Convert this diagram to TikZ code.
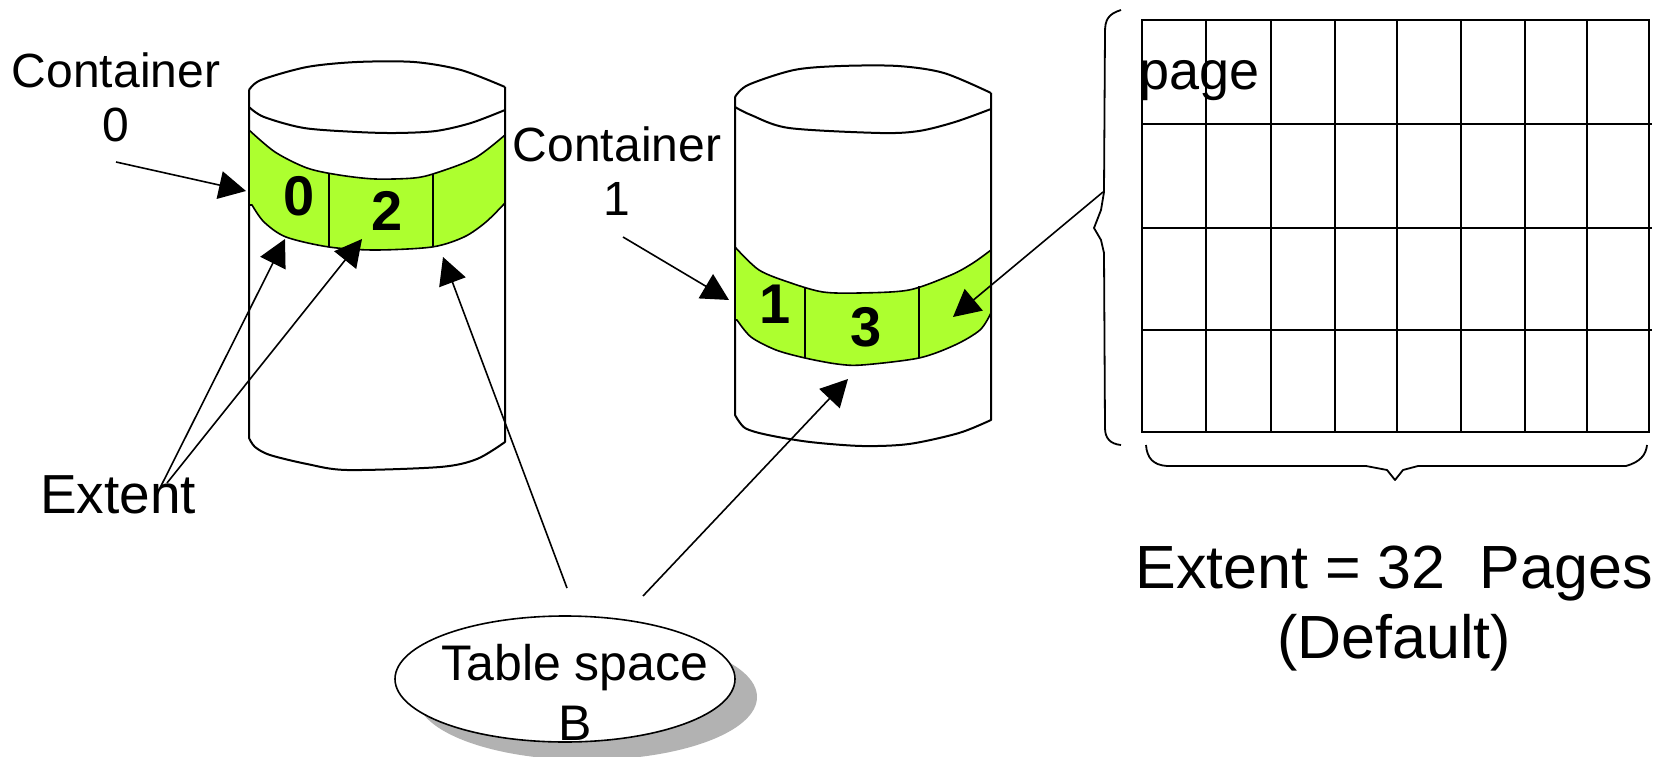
\documentclass[tikz,border=0pt]{standalone}
\usepackage{fontspec}
\setmainfont{Liberation Sans}
\usetikzlibrary{arrows.meta,shapes.geometric,shadows}
\definecolor{bandgreen}{RGB}{173,255,47}
\definecolor{shadowgray}{RGB}{178,178,178}

\begin{document}
\begin{tikzpicture}[x=1pt,y=-1pt,
  outline/.style={line width=2pt, line join=round},
  band/.style={fill=bandgreen, draw=black, line width=1.6pt, line join=round},
  divider/.style={line width=1.6pt},
  pointer/.style={line width=1.6pt, -{Triangle[length=27pt,width=28pt]}},
  lbl/.style={font=\fontsize{48}{54}\selectfont, align=center, inner sep=0pt},
  biglbl/.style={font=\fontsize{61}{70}\selectfont, align=center, inner sep=0pt},
  digit/.style={font=\fontsize{56}{60}\selectfont\bfseries, inner sep=0pt, anchor=base},
  gridline/.style={line width=1.8pt},
  bracepath/.style={line width=1.8pt, line join=round},
]
\useasboundingbox (0,0) rectangle (1663,757);

% ---------- container 0 ----------
\draw[outline] plot[smooth,tension=0.5] coordinates {(249,90) (261,80) (307,67) (357,62) (414,62) (461,70) (505,87)};
\draw[outline] plot[smooth,tension=0.5] coordinates {(249,107) (264,117) (304,128) (357,132) (396,133) (436,131) (471,123) (505,110)};
\draw[outline] (249,90) -- (249,438) -- plot[smooth,tension=0.5] coordinates {(249,438) (255,447) (270,455) (307,464) (347,470) (440,467) (477,459) (505,442)} -- (505,87);
\filldraw[band] plot[smooth,tension=0.5] coordinates {(249,130) (275,152) (307,168) (339,175) (375,179) (414,178) (436,173) (475,158) (505,135)}
  -- (505,203) -- plot[smooth,tension=0.5] coordinates {(505,203) (486,222) (464,237) (432,247) (375,250) (329,247) (286,237) (264,222) (252,205)} -- (249,205) -- cycle;
\draw[divider] (329,173) -- (329,247);
\draw[divider] (433,174) -- (433,247);
\draw[outline] (249,100) -- (249,250);
\draw[outline] (505,100) -- (505,250);
\node[digit] (e0) at (299,215) {0};
\node[digit] (e2) at (387,230) {2};

% ---------- container 1 ----------
\draw[outline] plot[smooth,tension=0.5] coordinates {(735,97) (748,85) (794,70) (841,66) (898,66) (944,73) (991,93)};
\draw[outline] plot[smooth,tension=0.5] coordinates {(735,107) (751,115) (789,128) (880,133) (919,131) (955,122) (991,109)};
\draw[outline] (735,97) -- (735,415) -- plot[smooth,tension=0.5] coordinates {(735,415) (745,428) (768,435) (810,442) (862,446) (909,444) (959,433) (991,420)} -- (991,93);
\filldraw[band] plot[smooth,tension=0.5] coordinates {(735,247) (759,270) (791,283) (823,292) (859,293) (909,290) (951,275) (973,263) (991,250)}
  -- (991,313) -- plot[smooth,tension=0.5] coordinates {(991,313) (980,330) (955,345) (919,358) (862,365) (837,364) (805,358) (776,350) (751,337) (737,320)} -- (735,320) -- cycle;
\draw[divider] (805,287) -- (805,358);
\draw[divider] (919,286) -- (919,358);
\draw[outline] (735,230) -- (735,340);
\draw[outline] (991,230) -- (991,340);
\node[digit] (e1) at (775,323) {1};
\node[digit] (e3) at (866,346) {3};

% ---------- extent of pages ----------
\foreach \x in {1142,1206,1271,1335,1397,1461,1525,1587,1649}
  \draw[gridline] (\x,20) -- (\x,432);
\draw[gridline] (1141,20) -- (1650,20);
\draw[gridline] (1142,124) -- (1652,124);
\draw[gridline] (1142,228) -- (1652,228);
\draw[gridline] (1142,330) -- (1652,330);
\draw[gridline] (1141,432) -- (1650,432);
\node[font=\fontsize{54}{60}\selectfont, inner sep=0pt, anchor=base west] (pg) at (1139,90) {page};

% braces around the extent
\draw[bracepath] (1121,10) .. controls (1108,14) and (1105,20) .. (1105,32) -- (1104,192) -- (1101,210) -- (1094,228) -- (1101,240) -- (1104,253) -- (1105,428) .. controls (1105,438) and (1110,444) .. (1121,445);
\draw[bracepath] (1146,445) .. controls (1147,458) and (1153,465) .. (1167,466) -- (1366,466) -- (1387,470) -- (1395,480) -- (1403,470) -- (1418,466) -- (1626,466) .. controls (1640,462) and (1646,455) .. (1647,445);
\coordinate (braceL) at (1103,192);

% ---------- labels (base anchor = baseline of the last line) ----------
\node[lbl, anchor=base] (c0lbl) at (116,142) {Container\\0};
\node[lbl, anchor=base] (c1lbl) at (617,215) {Container\\1};
\node[font=\fontsize{55}{60}\selectfont, inner sep=0pt, anchor=base west] (extlbl) at (40,513) {Extent};
\node[biglbl, anchor=base] (sizelbl) at (1394,658) {Extent = 32\ \ Pages\\(Default)};

% table space
\node[ellipse, draw, line width=1.6pt, fill=white, minimum width=340pt, minimum height=126pt,
      drop shadow={shadow xshift=22pt, shadow yshift=-18pt, fill=shadowgray, opacity=1}] (ts) at (565,679) {};
\node[lbl, font=\fontsize{50}{60}\selectfont, anchor=base] (tslbl) at (575,740) {Table space\\B};

% ---------- pointers ----------
\coordinate (c0from) at (116,162);
\coordinate (c0to) at (246,191);
\coordinate (c1from) at (623,237);
\coordinate (c1to) at (729,300);
\coordinate (extA) at (160,488);
\coordinate (extB) at (167,483);
\coordinate (ext0) at (285,239);
\coordinate (ext2) at (362,239);
\coordinate (tsA) at (567,588);
\coordinate (tsB) at (643,596);
\coordinate (band0) at (443,257);
\coordinate (band1) at (848,379);
\coordinate (band1r) at (953,317);

\draw[pointer] (c0from) -- (c0to);
\draw[pointer] (c1from) -- (c1to);
\draw[pointer] (extA) -- (ext0);
\draw[pointer] (extB) -- (ext2);
\draw[pointer] (tsA) -- (band0);
\draw[pointer] (tsB) -- (band1);
\draw[pointer] (braceL) -- (band1r);
\end{tikzpicture}
\end{document}
